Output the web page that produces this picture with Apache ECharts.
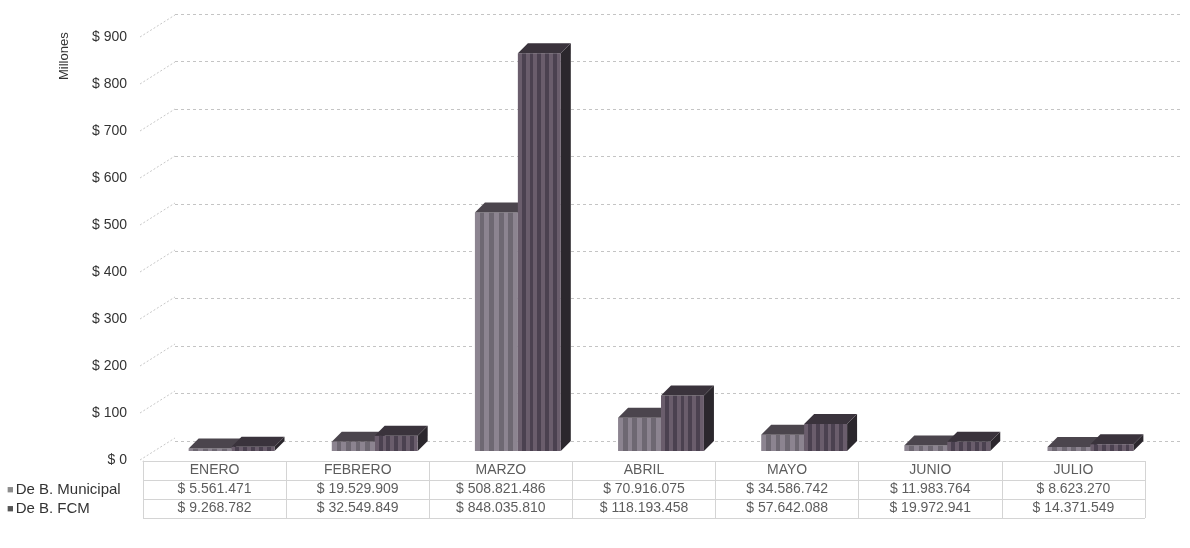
<!DOCTYPE html>
<html>
<head>
<meta charset="utf-8">
<script src="https://cdn.jsdelivr.net/npm/echarts@6/dist/echarts.min.js"></script>
<style>
html,body{margin:0;padding:0;background:#fff;}
#c{width:1190px;height:548px;}
</style>
</head>
<body>
<div id="c"></div>
<script>
const months = ['ENERO', 'FEBRERO', 'MARZO', 'ABRIL', 'MAYO', 'JUNIO', 'JULIO'];
const seriesNames = ['De B. Municipal', 'De B. FCM'];
const municipal = [5561471, 19529909, 508821486, 70916075, 34586742, 11983764, 8623270];
const fcm = [9268782, 32549849, 848035810, 118193458, 57642088, 19972941, 14371549];
const yTicks = [0, 100, 200, 300, 400, 500, 600, 700, 800, 900];
const axisName = 'Millones';

const FONT = 'Liberation Sans';
const fmtPesos = v => '$ ' + String(v).replace(/\B(?=(\d{3})+(?!\d))/g, '.');

const DX = 10, DY = -10;
function stripes(c1, c2, n) {
  const stops = [];
  for (let i = 0; i < n; i++) {
    stops.push({offset: i / n, color: i % 2 ? c1 : c2});
    stops.push({offset: (i + 1) / n - 0.0001, color: i % 2 ? c1 : c2});
  }
  return new echarts.graphic.LinearGradient(0, 0, 1, 0, stops);
}
function bar3d(side, front, top, right) {
  return function (params, api) {
    const idx = api.value(0), val = api.value(1);
    const b = api.coord([idx, 0]);
    const t = api.coord([idx, val]);
    const band = api.size([1, 0])[0];
    const w = band * 0.30;
    const x0 = side === 0 ? b[0] - w : b[0];
    const by = b[1], ty = t[1];
    return {
      type: 'group',
      children: [
        {type: 'polygon', shape: {points: [[x0 + w, ty], [x0 + w + DX, ty + DY], [x0 + w + DX, by + DY], [x0 + w, by]]}, style: {fill: right}},
        {type: 'rect', shape: {x: x0, y: ty, width: w, height: by - ty}, style: {fill: front}},
        {type: 'polygon', shape: {points: [[x0, ty], [x0 + w, ty], [x0 + w + DX, ty + DY], [x0 + DX, ty + DY]]}, style: {fill: top}}
      ]
    };
  };
}

const tableCells = [];
months.forEach((m, i) => tableCells.push([i, 0, m]));
municipal.forEach((v, i) => tableCells.push([i, 1, fmtPesos(v)]));
fcm.forEach((v, i) => tableCells.push([i, 2, fmtPesos(v)]));

const chart = echarts.init(document.getElementById('c'), null, {renderer: 'canvas'});
chart.setOption({
  backgroundColor: '#ffffff',
  animation: false,
  textStyle: {fontFamily: FONT},
  grid: [
    {left: 160, right: 28, top: 29, bottom: 97},
    {left: 175, right: 10, top: 14, bottom: 107},
    {left: 140, right: 1030, top: 37, bottom: 88},
    {left: 143, right: 45, top: 461, bottom: 30}
  ],
  xAxis: [
    {gridIndex: 0, type: 'category', data: months, show: false},
    {gridIndex: 1, type: 'value', min: 0, max: 1, show: false},
    {gridIndex: 2, type: 'value', min: 0, max: 1, show: false},
    {gridIndex: 3, type: 'category', data: months, position: 'top',
      axisLine: {show: true, lineStyle: {color: '#d4d4d4'}}, axisTick: {show: false}, axisLabel: {show: false},
      splitLine: {show: true, interval: 0, lineStyle: {color: '#d4d4d4', width: 1}}}
  ],
  yAxis: [
    {gridIndex: 0, type: 'value', min: 0, max: 900, show: false},
    {gridIndex: 1, type: 'value', min: 0, max: 900, interval: 100,
      axisLine: {show: false}, axisTick: {show: false}, axisLabel: {show: false},
      splitLine: {show: true, lineStyle: {color: '#c4c4c4', type: [3, 3], width: 1}}},
    {gridIndex: 2, type: 'value', min: 0, max: 900, interval: 100,
      axisLine: {show: false}, axisTick: {show: false}, splitLine: {show: false},
      axisLabel: {margin: 13, color: '#333', fontSize: 14, fontFamily: FONT, formatter: v => '$ ' + v}},
    {gridIndex: 3, type: 'category', data: [''].concat(seriesNames), inverse: true,
      axisLine: {show: true, lineStyle: {color: '#d4d4d4'}}, axisTick: {show: false},
      splitLine: {show: true, interval: 0, lineStyle: {color: '#d4d4d4'}},
      axisLabel: {interval: 0, hideOverlap: false, align: 'left', margin: 136, color: '#333', fontSize: 15, fontFamily: FONT,
        formatter: (v, i) => v ? (i === 1 ? '{a|■}' : '{b|■}') + v : '',
        rich: {a: {color: '#8c8c8c', fontSize: 11, padding: [0, 2, 0, 0]}, b: {color: '#555', fontSize: 11, padding: [0, 2, 0, 0]}}}}
  ],
  graphic: [
    {type: 'text', x: 58, y: 80, rotation: Math.PI / 2,
      style: {text: axisName, fill: '#333', font: '13px "Liberation Sans"'}}
  ],
  series: [
    {type: 'custom', xAxisIndex: 2, yAxisIndex: 2, data: yTicks.map(v => [0, v]), silent: true,
      renderItem: (params, api) => {
        const p = api.coord([0, api.value(1)]);
        return {type: 'line', shape: {x1: p[0], y1: p[1], x2: p[0] + 35, y2: p[1] - 22},
          style: {stroke: '#c8c8c8', lineWidth: 1, lineDash: [2, 2]}};
      }},
    {type: 'custom', name: seriesNames[0], xAxisIndex: 0, yAxisIndex: 0,
      data: municipal.map((v, i) => [i, v / 1e6]),
      renderItem: bar3d(0, stripes('#6e6872', '#8c8490', 9), '#4b454d', '#3a3540')},
    {type: 'custom', name: seriesNames[1], xAxisIndex: 0, yAxisIndex: 0,
      data: fcm.map((v, i) => [i, v / 1e6]),
      renderItem: bar3d(1, stripes('#4b4150', '#6a5d6c', 11), '#3a333c', '#2b272d')},
    {type: 'scatter', xAxisIndex: 3, yAxisIndex: 3, data: tableCells, symbolSize: 1,
      itemStyle: {color: 'rgba(0,0,0,0)'}, silent: true,
      label: {show: true, position: 'inside', color: '#333', fontSize: 14, fontFamily: FONT,
        formatter: p => p.value[2]}}
  ]
});
</script>
</body>
</html>
